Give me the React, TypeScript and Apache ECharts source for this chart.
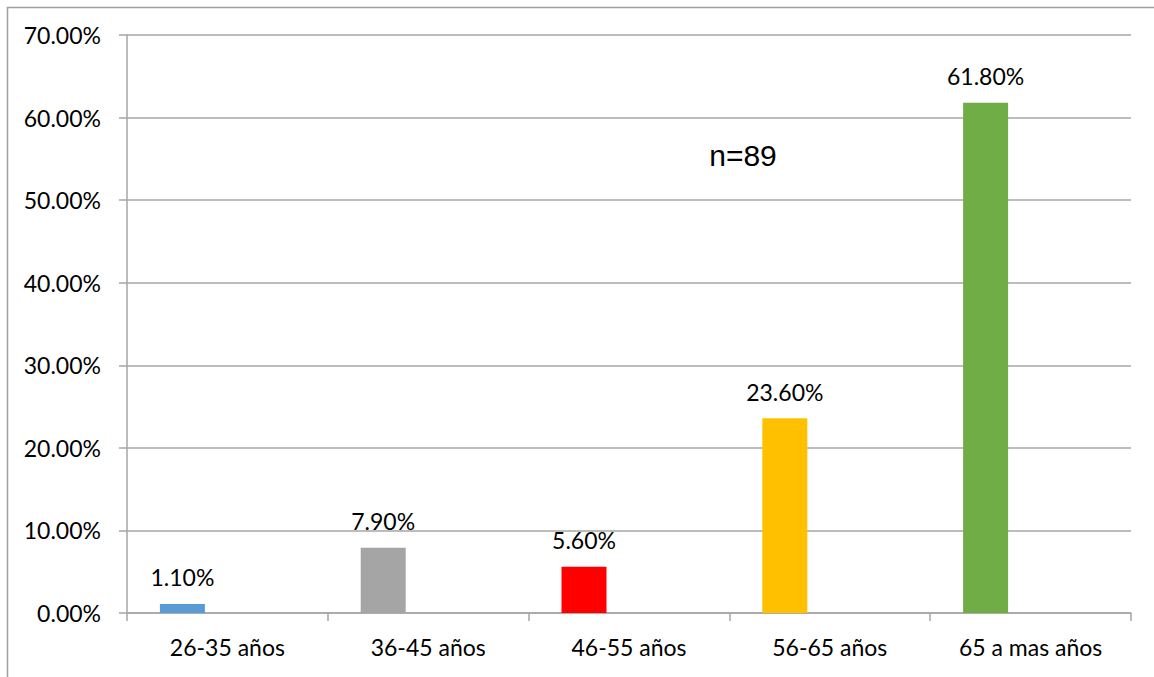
import React, { useEffect, useRef } from "react";
import * as echarts from "echarts";

// Age groups and their share of respondents
const categories = ["26-35 años", "36-45 años", "46-55 años", "56-65 años", "65 a mas años"];
const shares = [1.1, 7.9, 5.6, 23.6, 61.8];
const barColors = ["#5B9BD5", "#A5A5A5", "#FF0000", "#FFC000", "#70AD47"];
const sampleNote = "n=89";

const FONT = "Lato";

export default function App() {
  const ref = useRef<HTMLDivElement>(null);

  useEffect(() => {
    if (!ref.current) return;
    const chart = echarts.init(ref.current, null, { renderer: "svg" });
    chart.setOption({
      animation: false,
      backgroundColor: "#ffffff",
      grid: { left: 127, right: 23, top: 35, bottom: 64, containLabel: false },
      xAxis: {
        type: "category",
        data: categories,
        axisLine: { lineStyle: { color: "#A6A6A6", width: 1.5 } },
        axisTick: { show: true, length: 8, lineStyle: { color: "#A6A6A6", width: 1.5 } },
        axisLabel: { color: "#000", fontFamily: FONT, fontSize: 23, margin: 22 },
      },
      yAxis: {
        type: "value",
        min: 0,
        max: 70,
        interval: 10,
        axisLine: { show: true, lineStyle: { color: "#A6A6A6", width: 1.5 } },
        axisTick: { show: true, length: 8, lineStyle: { color: "#A6A6A6", width: 1.5 } },
        splitLine: { lineStyle: { color: "#A6A6A6", width: 1.5 } },
        axisLabel: {
          color: "#000",
          fontFamily: FONT,
          fontSize: 23,
          margin: 26,
          formatter: (v: number) => v.toFixed(2) + "%",
        },
      },
      series: [
        {
          type: "bar",
          barWidth: 45,
          barGap: "100%",
          data: shares.map((v, i) => ({ value: v, itemStyle: { color: barColors[i] } })),
          label: {
            show: true,
            position: "top",
            distance: 15,
            color: "#000",
            fontFamily: FONT,
            fontSize: 23,
            formatter: (p: any) => Number(p.value).toFixed(2) + "%",
          },
        },
        {
          // empty companion series keeps each bar on the left of its slot
          type: "bar",
          barWidth: 45,
          data: shares.map(() => null),
        },
      ],
      graphic: [
        {
          type: "rect",
          left: 5,
          top: 5,
          shape: { x: 0, y: 0, width: 1200, height: 700 },
          style: { fill: "none", stroke: "#A0A0A0", lineWidth: 1.5 },
          silent: true,
        },
        {
          type: "text",
          x: 743,
          y: 155,
          style: {
            text: sampleNote,
            fill: "#000",
            font: "30px 'Liberation Sans', Arial, sans-serif",
            textAlign: "center",
            textVerticalAlign: "middle",
          },
        },
      ],
    });
    return () => chart.dispose();
  }, []);

  return (
    <div
      ref={ref}
      style={{ position: "absolute", left: 0, top: 0, width: 1154, height: 677 }}
    />
  );
}
